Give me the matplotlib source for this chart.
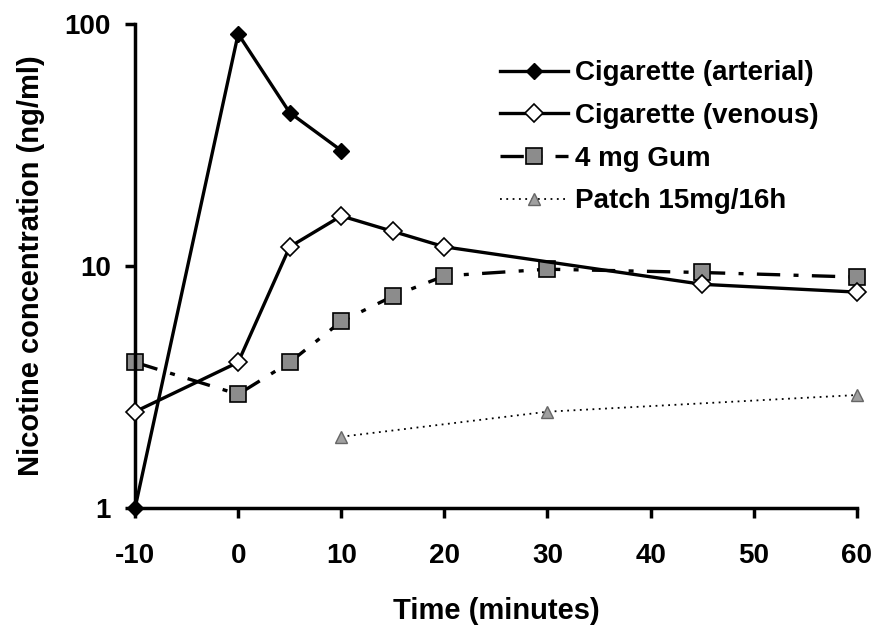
import matplotlib

matplotlib.use("Agg")
import matplotlib.pyplot as plt
from matplotlib.ticker import FixedLocator, NullLocator

plt.rcParams["font.family"] = ["Liberation Sans", "DejaVu Sans"]
plt.rcParams["font.weight"] = "bold"

# values (ng/ml)
arterial_t = [-10, 0, 5, 10]
arterial_c = [1.0, 91, 43, 30]

venous_t = [-10, 0, 5, 10, 15, 20, 45, 60]
venous_c = [2.5, 4.0, 12.0, 16.1, 13.9, 12.0, 8.4, 7.8]

gum_t = [-10, 0, 5, 10, 15, 20, 30, 45, 60]
gum_c = [4.0, 2.95, 4.0, 5.9, 7.5, 9.1, 9.7, 9.4, 9.0]

patch_t = [10, 30, 60]
patch_c = [1.97, 2.5, 2.93]

x_ticks = [-10, 0, 10, 20, 30, 40, 50, 60]
y_ticks = [1, 10, 100]

fig = plt.figure(figsize=(8.77, 6.26), dpi=100)
ax = fig.add_axes([0.154, 0.1885, 0.823, 0.7732])

ax.plot(arterial_t, arterial_c, color="black", lw=2.4, marker="D", ms=8,
        mfc="black", mec="black", label="Cigarette (arterial)", zorder=4,
        clip_on=False)
ax.plot(venous_t, venous_c, color="black", lw=2.4, marker="D", ms=9,
        mfc="white", mec="black", mew=1.2, label="Cigarette (venous)", zorder=3,
        clip_on=False)
ax.plot(gum_t, gum_c, color="black", lw=2.4, ls=(0, (7, 4, 1.5, 4)), marker="s",
        ms=11, mfc="#8c8c8c", mec="black", mew=1.2, label="4 mg Gum", zorder=2,
        clip_on=False)
ax.plot(patch_t, patch_c, color="black", lw=1.3, ls=(0, (1, 2.5)), marker="^",
        ms=9, mfc="#a0a0a0", mec="#666666", label="Patch 15mg/16h", zorder=2,
        clip_on=False)

ax.set_yscale("log")
ax.set_ylim(1, 100)
ax.set_xlim(-10, 60)
ax.xaxis.set_major_locator(FixedLocator(x_ticks))
ax.yaxis.set_major_locator(FixedLocator(y_ticks))
ax.yaxis.set_minor_locator(NullLocator())
ax.set_yticklabels([str(v) for v in y_ticks])
ax.set_xticklabels([str(v) for v in x_ticks])

for side in ("top", "right"):
    ax.spines[side].set_visible(False)
for side in ("left", "bottom"):
    ax.spines[side].set_linewidth(2.5)
ax.tick_params(axis="both", which="major", length=7.5, width=2.5, direction="out",
               labelsize=20)
ax.tick_params(axis="x", pad=18)
ax.tick_params(axis="y", pad=10)

ax.set_xlabel("Time (minutes)", fontsize=21, fontweight="bold", labelpad=20)
ax.set_ylabel("Nicotine concentration (ng/ml)", fontsize=21, fontweight="bold",
              labelpad=14)

ax.legend(loc="upper left", frameon=False, fontsize=20, handlelength=2.45,
          handletextpad=0.25, labelspacing=0.6, borderaxespad=0.0,
          bbox_to_anchor=(0.49, 0.948))

fig.savefig("out.png", dpi=100)
